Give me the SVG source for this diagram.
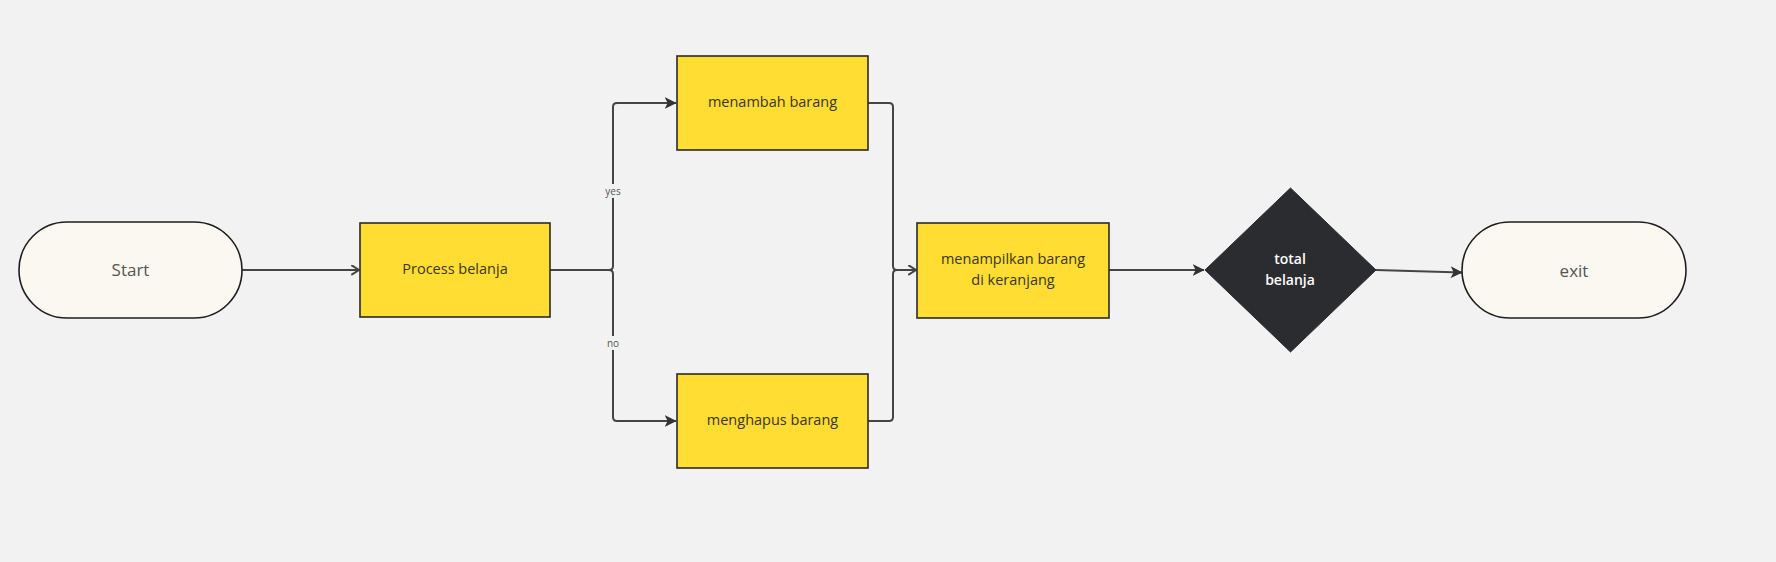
<svg xmlns="http://www.w3.org/2000/svg" width="1776" height="562" viewBox="0 0 1776 562">
  <style>
    .pill { fill: #fbf8f1; stroke: #1e1e1e; stroke-width: 1.6; }
    .box { fill: #ffdd33; stroke: #2a2a2a; stroke-width: 1.6; }
    .dia { fill: #2b2c30; stroke: #2b2c30; stroke-width: 1; }
    .conn { fill: none; stroke: #444; stroke-width: 2; }
    .t { font-family: "Open Sans", "Noto Sans", sans-serif; text-anchor: middle; dominant-baseline: central; }
    .tp { font-size: 17px; fill: #555; }
    .tb { font-size: 14.5px; fill: #3a3520; }
    .td { font-size: 14px; font-weight: 600; fill: #ffffff; }
    .lbl { font-size: 10px; fill: #555; }
  </style>
  <defs>
    <marker id="af" viewBox="0 0 10 10" refX="9.5" refY="5" markerWidth="12" markerHeight="12" orient="auto" markerUnits="userSpaceOnUse">
      <path d="M0,0 L10,5 L0,10 L2.5,5 z" fill="#333"/>
    </marker>
    <marker id="ao" viewBox="0 0 10 10" refX="9" refY="5" markerWidth="11" markerHeight="11" orient="auto" markerUnits="userSpaceOnUse">
      <path d="M2,0.5 L9,5 L2,9.5" fill="none" stroke="#444" stroke-width="1.8"/>
    </marker>
  </defs>
  <rect x="0" y="0" width="1776" height="562" fill="#f2f2f2"/>

  <g id="connectors">
    <path class="conn" d="M242,270 H359" marker-end="url(#ao)"/>
    <path class="conn" d="M550,270 H609 Q613,270 613,266 V107 Q613,103 617,103 H676" marker-end="url(#af)"/>
    <path class="conn" d="M550,270 H609 Q613,270 613,274 V417 Q613,421 617,421 H676" marker-end="url(#af)"/>
    <path class="conn" d="M868,103 H889 Q893,103 893,107 V266 Q893,270 897,270 H916" marker-end="url(#ao)"/>
    <path class="conn" d="M868,421 H889 Q893,421 893,417 V274 Q893,270 897,270 H916"/>
    <path class="conn" d="M1109,270 H1204" marker-end="url(#af)"/>
    <path class="conn" d="M1376,270 L1462,272.5" marker-end="url(#af)"/>
    <g id="label-yes">
      <rect x="604" y="184" width="18" height="14" fill="#f2f2f2"/>
      <text class="t lbl" x="613" y="190.5">yes</text>
    </g>
    <g id="label-no">
      <rect x="605" y="336" width="16" height="14" fill="#f2f2f2"/>
      <text class="t lbl" x="613" y="342.5">no</text>
    </g>
  </g>

  <g id="start">
    <rect class="pill" x="19" y="222" width="223" height="96" rx="48" ry="48"/>
    <text class="t tp" x="130.5" y="269">Start</text>
  </g>
  <g id="process-belanja">
    <rect class="box" x="360" y="223" width="190" height="94"/>
    <text class="t tb" x="455" y="268.5">Process belanja</text>
  </g>
  <g id="menambah-barang">
    <rect class="box" x="677" y="56" width="191" height="94"/>
    <text class="t tb" x="772.5" y="101.5">menambah barang</text>
  </g>
  <g id="menghapus-barang">
    <rect class="box" x="677" y="374" width="191" height="94"/>
    <text class="t tb" x="772.5" y="419.5">menghapus barang</text>
  </g>
  <g id="menampilkan-barang">
    <rect class="box" x="917" y="223" width="192" height="95"/>
    <text class="t tb" x="1013" y="258.5">menampilkan barang</text>
    <text class="t tb" x="1013" y="279.5">di keranjang</text>
  </g>
  <g id="total-belanja">
    <polygon class="dia" points="1290.5,188 1376,270 1290.5,352 1205,270"/>
    <text class="t td" x="1290" y="258.5">total</text>
    <text class="t td" x="1290" y="279.5">belanja</text>
  </g>
  <g id="exit">
    <rect class="pill" x="1462" y="222" width="224" height="96" rx="48" ry="48"/>
    <text class="t tp" x="1574" y="270">exit</text>
  </g>
</svg>
